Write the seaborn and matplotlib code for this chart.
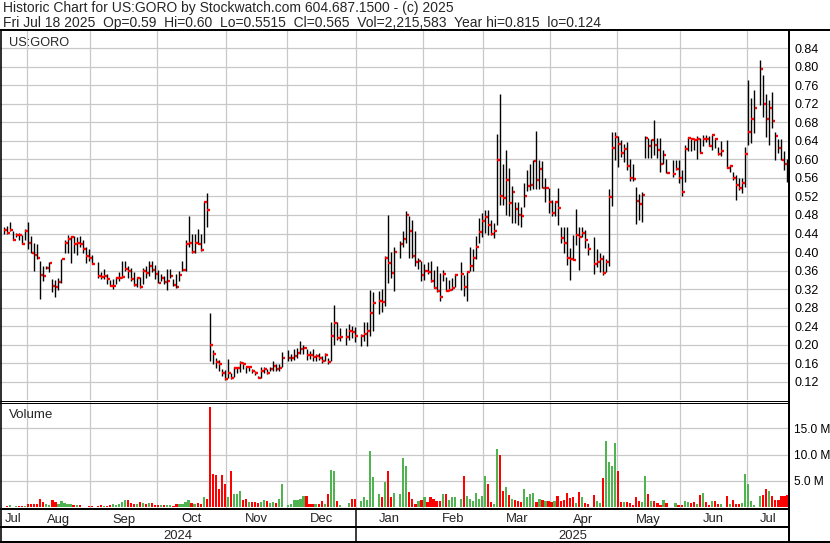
import numpy as np
import pandas as pd
import matplotlib
matplotlib.use("Agg")
import matplotlib.pyplot as plt
import seaborn as sns

# ---------------- data ----------------
holidays = ["2024-09-02", "2024-11-28", "2024-12-25", "2025-01-01", "2025-01-09",
            "2025-01-20", "2025-02-17", "2025-04-18", "2025-05-26", "2025-06-19", "2025-07-04"]

high = [
    .453, .456, .465, .446, .442, .442, .437, .450,
    .465, .435, .420, .417, .381, .370, .370, .378, .341, .339, .343, .386, .426, .437, .435, .435, .433, .435, .426, .410, .406, .394,
    .379, .356, .363, .352, .339, .341, .346, .356, .381, .381, .370, .366, .356, .347, .347, .366, .370, .381, .381, .373,
    .361, .352, .348, .363, .363, .341, .352, .359, .381, .425, .478, .440, .440, .449, .440, .507, .528, .269, .188, .171, .167, .147, .146,
    .169, .138, .151, .151, .165, .163, .154, .154, .147, .144, .133, .151, .151, .147, .151, .165, .158, .158, .185, .188,
    .180, .190, .194, .208, .200, .190, .186, .190, .180, .183, .176, .183, .172, .248, .286, .250, .236, .236, .245, .240, .238,
    .223, .248, .250, .319, .313, .316, .320, .392, .481, .400, .410, .424, .446, .489, .478, .469, .446, .388, .381, .375,
    .379, .381, .362, .369, .355, .362, .347, .339, .343, .353, .378, .350, .357, .410, .406, .435, .474, .485, .490,
    .491, .470, .462, .654, .740, .591, .621, .581, .542, .509, .509, .498, .549, .578, .591, .599, .662, .599, .596, .560, .538,
    .513, .509, .538, .455, .455, .455, .408, .436, .493, .455, .455, .448, .420, .433, .406, .397, .394, .386, .537, .660, .660,
    .650, .642, .633, .638, .601, .590, .541, .525, .530, .650, .647, .645, .685, .647, .647, .620, .600, .599, .599, .599, .578,
    .632, .649, .647, .647, .650, .647, .652, .652, .650, .652, .647, .626, .640, .642, .588, .573, .566, .559, .559, .627,
    .771, .732, .750, .815, .782, .742, .728, .746, .660, .645, .645, .617, .600,
]
low = [
    .438, .438, .446, .426, .432, .426, .417, .426,
    .406, .399, .359, .384, .298, .338, .363, .356, .313, .302, .318, .334, .399, .399, .377, .399, .394, .410, .399, .377, .381, .374,
    .345, .341, .341, .331, .327, .320, .331, .338, .345, .359, .345, .338, .327, .325, .323, .331, .345, .348, .356, .341,
    .334, .338, .331, .318, .345, .327, .323, .338, .359, .359, .410, .397, .399, .417, .402, .420, .455, .165, .158, .149, .144, .133, .124,
    .128, .125, .130, .140, .142, .147, .140, .144, .138, .135, .128, .128, .140, .137, .144, .144, .144, .144, .151, .165,
    .165, .168, .172, .180, .180, .168, .170, .165, .165, .168, .160, .165, .158, .165, .200, .210, .208, .200, .210, .215, .205,
    .198, .208, .198, .219, .230, .266, .270, .284, .334, .345, .316, .388, .410, .420, .388, .388, .370, .363, .338, .340,
    .352, .335, .322, .313, .295, .337, .316, .316, .319, .324, .318, .306, .295, .359, .359, .384, .420, .432, .442,
    .437, .437, .430, .459, .502, .502, .480, .478, .462, .462, .459, .455, .498, .531, .534, .536, .536, .536, .538, .509, .484,
    .477, .477, .459, .419, .397, .372, .339, .383, .415, .361, .433, .408, .394, .352, .368, .358, .350, .358, .370, .500, .599,
    .583, .606, .595, .577, .553, .553, .460, .470, .465, .602, .604, .602, .609, .604, .573, .591, .570, .563, .577, .548, .522,
    .552, .617, .617, .620, .600, .614, .629, .638, .629, .620, .624, .609, .608, .582, .573, .555, .512, .534, .527, .541,
    .631, .635, .656, .717, .692, .649, .631, .667, .599, .613, .599, .577, .5515,
]
close = [
    .448, .441, .448, .426, .437, .436, .418, .445,
    .420, .399, .394, .388, .351, .349, .365, .377, .327, .325, .336, .384, .420, .428, .433, .417, .420, .417, .406, .392, .387, .375,
    .348, .346, .348, .341, .327, .327, .344, .345, .347, .364, .359, .341, .329, .343, .325, .359, .355, .370, .361, .352,
    .334, .345, .335, .338, .349, .329, .325, .351, .362, .418, .420, .401, .420, .418, .405, .507, .491, .199, .180, .162, .158, .139, .126,
    .138, .129, .149, .149, .160, .158, .151, .151, .144, .140, .129, .144, .147, .140, .147, .155, .147, .149, .172, .172,
    .172, .175, .183, .190, .192, .178, .177, .174, .176, .172, .165, .178, .162, .219, .246, .215, .217, .216, .230, .228, .218,
    .219, .224, .230, .269, .289, .295, .293, .387, .377, .354, .401, .418, .429, .480, .446, .392, .379, .381, .350, .360,
    .358, .337, .323, .316, .302, .352, .316, .318, .323, .350, .352, .325, .356, .370, .388, .411, .443, .467, .476,
    .459, .439, .445, .599, .521, .516, .555, .506, .529, .493, .480, .478, .520, .542, .545, .596, .555, .580, .538, .538, .509,
    .485, .507, .496, .431, .420, .388, .386, .383, .436, .433, .442, .425, .406, .375, .379, .384, .355, .379, .519, .625, .649,
    .633, .613, .622, .586, .559, .557, .511, .503, .524, .647, .629, .642, .631, .620, .590, .609, .570, .568, .580, .559, .530,
    .623, .647, .644, .641, .644, .614, .645, .643, .629, .652, .644, .612, .617, .582, .586, .559, .545, .539, .550, .611,
    .660, .688, .710, .794, .719, .688, .710, .683, .650, .624, .599, .589, .565,
]
volume_m = [
    .05, .25, .4, .05, .2, .2, .2, .2,
    .5, .6, .5, .6, 1.6, .9, .5, .3, 1.3, .9, .5, 1.1, .8, .6, .5, .4, .4, .4, .02, .02, .2, .2,
    .2, .3, .2, .2, .3, .5, .4, .5, .9, 1.3, 1.3, .8, .6, .6, .9, .8, .6, .8, .8, .3,
    .3, .4, .4, .3, .3, .25, .6, .6, .5, .9, 1.3, .8, .5, .7, .6, 1.9, 1.6, 19.0, 6.3, 6.1, 3.5, 6.1, 4.3,
    1.9, 6.9, 2.5, 2.5, 3.0, 1.3, 1.6, 1.0, .9, .9, .8, .9, 1.3, 1.2, .8, 1.0, .8, 1.6, 4.4, .3,
    .6, 1.3, 1.3, 1.6, 2.0, 2.0, .6, .6, .6, .5, 1.1, .5, 2.4, 7.0, 6.8, 1.1, .3, .05, .8, 1.6, 1.6,
    1.1, 1.9, 1.4, 10.7, 5.8, 2.5, 1.9, 4.7, 6.8, 1.8, 2.6, 2.4, 9.3, 7.9, 2.8, 1.6, .6, 1.1, 1.3, 1.9,
    1.0, 1.9, 1.6, 1.1, 1.1, 2.5, 2.5, 1.4, 1.9, 1.9, 1.5, 5.9, 2.0, 1.6, 1.2, 2.6, 1.5, 2.0, 5.9,
    4.3, 1.0, .6, 11.0, 9.9, 3.1, 3.8, 2.2, 1.6, 1.4, 1.2, 1.0, 3.4, 1.8, 2.4, 2.6, 1.0, 1.5, 1.4, 1.2, 1.2,
    1.0, 1.2, 2.0, 1.1, 1.3, 2.7, 1.7, 1.8, .8, 2.8, 1.8, .8, .5, 2.2, 1.1, .7, 5.5, 12.5, 8.5, 7.8, 12.2,
    6.8, 1.0, 1.0, 1.0, .7, .4, 1.8, 1.2, 1.0, 5.9, 2.4, 1.1, 1.2, .8, .4, 1.4, .8, .05, .7, .3, .4,
    1.2, 1.0, .7, 1.0, .6, 2.2, 2.6, 1.0, .4, 1.1, 1.1, .6, .6, 2.0, .5, 1.3, .6, .6, .8, 6.3,
    4.3, 1.2, .3, 2.0, 2.3, 3.4, 3.0, 2.0, 1.4, 1.4, 2.0, 2.0, 2.22,
]

price_ticks = [0.12, 0.16, 0.20, 0.24, 0.28, 0.32, 0.36, 0.40, 0.44, 0.48,
               0.52, 0.56, 0.60, 0.64, 0.68, 0.72, 0.76, 0.80, 0.84]
volume_ticks = [5, 10, 15]
volume_tick_labels = ["5.0 M", "10.0 M", "15.0 M"]
month_labels = ["Jul", "Aug", "Sep", "Oct", "Nov", "Dec", "Jan",
                "Feb", "Mar", "Apr", "May", "Jun", "Jul"]
year_labels = ["2024", "2025"]
title_line1 = "Historic Chart for US:GORO by Stockwatch.com 604.687.1500 - (c) 2025"
title_line2 = ("Fri Jul 18 2025  Op=0.59  Hi=0.60  Lo=0.5515  Cl=0.565  "
               "Vol=2,215,583  Year hi=0.815  lo=0.124")
symbol = "US:GORO"

# ---------------- positions (weekday slots, holidays leave gaps) ----------------
weekdays = pd.bdate_range("2024-07-22", "2025-07-18")
slot_of = {d: i for i, d in enumerate(weekdays)}
trading = weekdays[~weekdays.isin(pd.to_datetime(holidays))]
xs = np.array([slot_of[d] for d in trading], dtype=float)

bounds = []
for m in pd.date_range("2024-08-01", "2025-07-01", freq="MS"):
    d = m
    while d.weekday() >= 5:
        d -= pd.Timedelta(days=1)
    bounds.append(slot_of[d] - 0.5)

direction = ["up"] + ["up" if c >= p else "down" for p, c in zip(close[:-1], close[1:])]

# ---------------- style ----------------
sns.set_theme(style="white")
plt.rcParams["font.family"] = ["Liberation Sans", "DejaVu Sans"]
GRID = "#c8c8c8"
RED = "#ff0000"
GREEN = "#4fb34f"

W, H = 830, 543
fig = plt.figure(figsize=(W / 100, H / 100), dpi=100)
fig.patch.set_facecolor("white")

X0_SLOT, X0_PX, PX_PER_SLOT = 7.5, 26.7, 3.025
RIGHT_PX = 789


def slot_at(px):
    return X0_SLOT + (px - X0_PX) / PX_PER_SLOT


def px_at(s):
    return X0_PX + (s - X0_SLOT) * PX_PER_SLOT


xlim = (slot_at(0), slot_at(RIGHT_PX))


def fig_rect(top_px, bottom_px):
    return [0, 1 - bottom_px / H, RIGHT_PX / W, (bottom_px - top_px) / H]


ax_p = fig.add_axes(fig_rect(31, 400))
ax_v = fig.add_axes(fig_rect(402, 508.5))
ax_d = fig.add_axes(fig_rect(508.5, 541.5))

# price panel
y_scale = 463.4
ax_p.set_xlim(xlim)
ax_p.set_ylim(0.12 - (400 - 381.8) / y_scale, 0.12 + (381.8 - 31) / y_scale)
ax_p.vlines(xs, low, high, color="black", lw=1.0, zorder=3)
ax_p.hlines(close, xs + 0.1, xs + 1.0, color=RED, lw=1.7, zorder=4)
ax_p.set_yticks(price_ticks)
ax_p.set_yticklabels([f"{t:.2f}" for t in price_ticks])
ax_p.yaxis.tick_right()
ax_p.set_xticks(bounds)
ax_p.set_xticklabels([])
ax_p.tick_params(axis="both", length=0)
ax_p.tick_params(axis="y", pad=4.3, labelsize=9, labelcolor="black")
ax_p.grid(True, color=GRID, lw=0.9)
ax_p.set_axisbelow(True)
for s in ax_p.spines.values():
    s.set_visible(False)

# volume panel (seaborn bars)
vol_df = pd.DataFrame({"slot": xs, "volume": volume_m, "dir": direction})
sns.barplot(data=vol_df, x="slot", y="volume", hue="dir", hue_order=["up", "down"],
            palette={"up": GREEN, "down": RED}, native_scale=True, dodge=False,
            width=0.72, saturation=1, errorbar=None, legend=False, linewidth=0, ax=ax_v)
ax_v.set_xlim(xlim)
ax_v.set_ylim(-(508.5 - 506.9) / 5.24, (506.9 - 402) / 5.24)
ax_v.set_xlabel("")
ax_v.set_ylabel("")
ax_v.set_yticks(volume_ticks)
ax_v.set_yticklabels(volume_tick_labels)
ax_v.yaxis.tick_right()
ax_v.set_xticks(bounds)
ax_v.set_xticklabels([])
ax_v.tick_params(axis="both", length=0)
ax_v.tick_params(axis="y", pad=3.4, labelsize=8.6, labelcolor="black")
ax_v.grid(True, color=GRID, lw=0.9)
ax_v.set_axisbelow(True)
for s in ax_v.spines.values():
    s.set_visible(False)

# date rows
ax_d.set_xlim(xlim)
ax_d.set_ylim(541.5, 508.5)
ax_d.axis("off")
edges = [xlim[0]] + bounds + [xlim[1]]
for lab, a, b in zip(month_labels, edges[:-1], edges[1:]):
    ax_d.text((a + b) / 2, 522.5, lab, ha="center", va="baseline", fontsize=9.4)
jan_b = bounds[5]
for lab, a, b in zip(year_labels, [xlim[0], jan_b], [jan_b, xlim[1]]):
    ax_d.text((a + b) / 2, 539, lab, ha="center", va="baseline", fontsize=9.4)

# overlay in pixel coordinates: frame lines and header text
ov = fig.add_axes([0, 0, 1, 1])
ov.set_xlim(0, W)
ov.set_ylim(H, 0)
ov.axis("off")
ov.patch.set_alpha(0)
K = "black"
px = 0.72
ov.plot([0, W], [30, 30], color=K, lw=2 * px)
ov.plot([0.8, 0.8], [30, 541.5], color=K, lw=1.6 * px)
ov.plot([RIGHT_PX, RIGHT_PX], [30, H], color=K, lw=2 * px)
ov.plot([0, RIGHT_PX], [400.5, 400.5], color=K, lw=1 * px)
ov.plot([0, RIGHT_PX], [402.5, 402.5], color=K, lw=1 * px)
ov.plot([0, RIGHT_PX], [509, 509], color=K, lw=2 * px)
ov.plot([0, RIGHT_PX], [527, 527], color=K, lw=2 * px)
ov.plot([0, W], [541.5, 541.5], color=K, lw=2 * px)
ov.plot([px_at(jan_b), px_at(jan_b)], [509, 541.5], color=K, lw=1.5 * px)

ov.text(3, 12.3, title_line1, fontsize=10.0, va="baseline", ha="left")
ov.text(3, 27.3, title_line2, fontsize=10.0, va="baseline", ha="left")
ov.text(9, 46, symbol, fontsize=9.2, va="baseline", ha="left")
ov.text(9, 417.5, "Volume", fontsize=9.6, va="baseline", ha="left")

fig.savefig("out.png", dpi=100)
